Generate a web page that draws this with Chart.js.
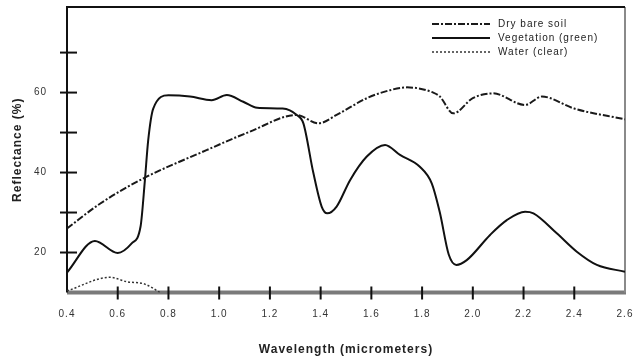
<!DOCTYPE html>
<html>
<head>
<meta charset="utf-8">
<script src="https://cdn.jsdelivr.net/npm/chart.js@4"></script>
<style>
  body { margin: 0; background: #fff; }
</style>
</head>
<body>
<canvas id="spectra" width="634" height="360"></canvas>
<script>
// Spectral reflectance curves (wavelength in micrometers, reflectance in %)
const soilWl = [0.40, 0.53, 0.70, 0.95, 1.12, 1.306, 1.391, 1.463, 1.582, 1.674, 1.74, 1.844, 1.87, 1.923, 2.00, 2.08, 2.206, 2.272, 2.40, 2.60];
const soilRefl = [26, 32.2, 38.5, 45.6, 50.2, 54.4, 52.3, 54.4, 58.6, 60.6, 61.3, 60, 59, 54.8, 58.6, 59.8, 56.9, 59, 56, 53.3];

const vegWl = [0.40, 0.51, 0.60, 0.655, 0.69, 0.707, 0.72, 0.74, 0.80, 0.885, 0.97, 1.03, 1.095, 1.15, 1.25, 1.306, 1.332, 1.371, 1.404, 1.426, 1.463, 1.516, 1.582, 1.654, 1.713, 1.79, 1.838, 1.87, 1.905, 1.935, 1.976, 2.068, 2.134, 2.206, 2.239, 2.331, 2.41, 2.489, 2.60];
const vegRefl = [15, 22.9, 19.9, 22.3, 26.5, 38, 48, 56, 59.3, 59, 58.1, 59.4, 57.7, 56.2, 56, 54.4, 52.3, 40, 31.5, 29.8, 31.5, 38.1, 44, 46.9, 44.4, 41.5, 37.3, 30, 19.5, 16.9, 18.1, 24.4, 28.1, 30.2, 29.8, 24.8, 20.2, 16.9, 15.2];

const waterWl = [0.40, 0.57, 0.635, 0.707, 0.767];
const waterRefl = [10.4, 13.8, 12.7, 12.1, 10];

const seriesNames = ['Dry bare soil', 'Vegetation (green)', 'Water (clear)'];

const xTicks = [0.4, 0.6, 0.8, 1.0, 1.2, 1.4, 1.6, 1.8, 2.0, 2.2, 2.4, 2.6];
const yTicks = [20, 30, 40, 50, 60, 70];
const yLabelled = [20, 40, 60];

function pairs(xs, ys) {
    return xs.map(function(x, i) { return { x: x, y: ys[i] }; });
}

// frame, crossing tick marks and the small legend box
const framePlugin = {
    id: 'frame',
    beforeDraw: function(chart) {
        chart.ctx.letterSpacing = '1px';
    },
    beforeDatasetsDraw: function(chart) {
        const ctx = chart.ctx;
        const a = chart.chartArea;
        const xs = chart.scales.x;
        const ys = chart.scales.y;
        ctx.save();
        ctx.lineCap = 'butt';

        // bottom axis, thick grey
        ctx.strokeStyle = '#7a7a7a';
        ctx.lineWidth = 4;
        ctx.beginPath();
        ctx.moveTo(a.left, a.bottom);
        ctx.lineTo(a.right + 1, a.bottom);
        ctx.stroke();

        // right edge
        ctx.strokeStyle = '#8a8a8a';
        ctx.lineWidth = 2;
        ctx.beginPath();
        ctx.moveTo(a.right, a.top);
        ctx.lineTo(a.right, a.bottom);
        ctx.stroke();

        // left + top
        ctx.strokeStyle = '#111';
        ctx.lineWidth = 2;
        ctx.beginPath();
        ctx.moveTo(a.left, a.bottom);
        ctx.lineTo(a.left, a.top);
        ctx.lineTo(a.right, a.top);
        ctx.stroke();

        // tick marks crossing the axes
        ctx.strokeStyle = '#111';
        ctx.lineWidth = 2;
        xs.ticks.forEach(function(t) {
            if (t.value <= xs.min || t.value >= xs.max) return;
            const px = xs.getPixelForValue(t.value);
            ctx.beginPath();
            ctx.moveTo(px, a.bottom - 6);
            ctx.lineTo(px, a.bottom + 7);
            ctx.stroke();
        });
        ys.ticks.forEach(function(t) {
            const py = ys.getPixelForValue(t.value);
            ctx.beginPath();
            ctx.moveTo(a.left - 7, py);
            ctx.lineTo(a.left + 10, py);
            ctx.stroke();
        });
        ctx.restore();
    },
    afterDraw: function(chart) {
        const ctx = chart.ctx;
        const rowY = [24, 38, 52];
        ctx.save();
        ctx.letterSpacing = '1px';
        ctx.font = '10px "Liberation Sans", Arial, sans-serif';
        ctx.textBaseline = 'middle';
        ctx.textAlign = 'left';
        chart.data.datasets.forEach(function(ds, i) {
            ctx.strokeStyle = ds.borderColor;
            ctx.lineWidth = ds.borderWidth;
            ctx.setLineDash(ds.borderDash || []);
            ctx.beginPath();
            ctx.moveTo(432, rowY[i]);
            ctx.lineTo(490, rowY[i]);
            ctx.stroke();
            ctx.setLineDash([]);
            ctx.fillStyle = '#222';
            ctx.fillText(ds.label, 498, rowY[i]);
        });
        ctx.restore();
    }
};

const ctx = document.getElementById('spectra').getContext('2d');
new Chart(ctx, {
    type: 'line',
    data: {
        datasets: [{
            label: seriesNames[0],
            data: pairs(soilWl, soilRefl),
            borderColor: '#1a1a1a',
            borderWidth: 2,
            borderDash: [7, 2, 2, 2],
            pointRadius: 0,
            cubicInterpolationMode: 'monotone'
        }, {
            label: seriesNames[1],
            data: pairs(vegWl, vegRefl),
            borderColor: '#111',
            borderWidth: 2,
            pointRadius: 0,
            cubicInterpolationMode: 'monotone'
        }, {
            label: seriesNames[2],
            data: pairs(waterWl, waterRefl),
            borderColor: '#333',
            borderWidth: 1.5,
            borderDash: [2, 2],
            pointRadius: 0,
            cubicInterpolationMode: 'monotone'
        }]
    },
    options: {
        responsive: false,
        animation: false,
        layout: { autoPadding: false, padding: { top: 7, right: 9, left: 0, bottom: 0 } },
        plugins: {
            legend: { display: false },
            tooltip: { enabled: false }
        },
        scales: {
            x: {
                type: 'linear',
                min: 0.4,
                max: 2.6,
                afterBuildTicks: function(scale) {
                    scale.ticks = xTicks.map(function(v) { return { value: v }; });
                },
                afterFit: function(scale) {
                    scale.height = 67.5;
                    scale.paddingLeft = 0;
                    scale.paddingRight = 0;
                },
                grid: { display: false },
                border: { display: false },
                ticks: {
                    padding: 8,
                    maxRotation: 0,
                    color: '#333',
                    font: { family: '"Liberation Sans", Arial, sans-serif', size: 10 },
                    callback: function(v) { return v.toFixed(1); }
                },
                title: {
                    display: true,
                    text: 'Wavelength (micrometers)',
                    color: '#222',
                    padding: { top: 0, bottom: 3 },
                    font: { family: '"Liberation Sans", Arial, sans-serif', size: 12, weight: 'bold' }
                }
            },
            y: {
                min: 10,
                max: 81.4,
                afterBuildTicks: function(scale) {
                    scale.ticks = yTicks.map(function(v) { return { value: v }; });
                },
                afterFit: function(scale) {
                    scale.width = 67;
                    scale.paddingTop = 0;
                    scale.paddingBottom = 0;
                },
                grid: { display: false },
                border: { display: false },
                ticks: {
                    padding: 12,
                    color: '#333',
                    font: { family: '"Liberation Sans", Arial, sans-serif', size: 10 },
                    callback: function(v) { return yLabelled.indexOf(v) >= 0 ? String(v) : ''; }
                },
                title: {
                    display: true,
                    text: 'Reflectance (%)',
                    color: '#222',
                    padding: { top: 10, bottom: 0 },
                    font: { family: '"Liberation Sans", Arial, sans-serif', size: 12, weight: 'bold' }
                }
            }
        }
    },
    plugins: [framePlugin]
});
</script>
</body>
</html>
